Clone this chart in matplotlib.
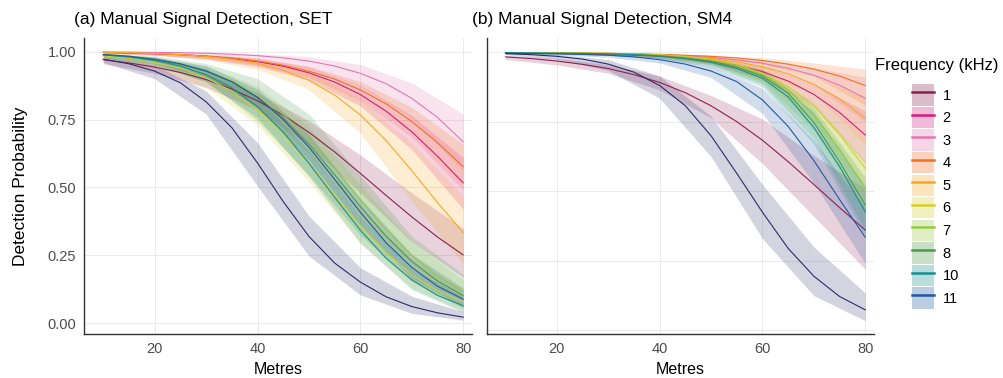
import matplotlib as mpl
mpl.use('Agg')
import matplotlib.pyplot as plt
from matplotlib.patches import Patch
from matplotlib.lines import Line2D

plt.rcParams['font.family'] = ['Liberation Sans', 'DejaVu Sans']

# distance (m) of the fitted curves and of the confidence ribbons
metres = [10, 15, 20, 25, 30, 35, 40, 45, 50, 55, 60, 65, 70, 75, 80]
band_metres = [10, 20, 30, 40, 50, 60, 70, 80]

freqs = ['1', '2', '3', '4', '5', '6', '7', '8', '10', '11', 'navy']
colours = {'1': '#8E1F52', '2': '#D41C7E', '3': '#E377B2', '4': '#F37021',
           '5': '#F7A823', '6': '#D5D027', '7': '#97C93D', '8': '#4A9A48',
           '10': '#17918F', '11': '#1F58A3', 'navy': '#2C2A6B'}

# (a) SET - fitted detection probability
set_mean = {
    '1': [0.970, 0.958, 0.943, 0.923, 0.897, 0.862, 0.819, 0.766, 0.703, 0.631, 0.552, 0.471, 0.392, 0.318, 0.252],
    '2': [0.997, 0.995, 0.992, 0.989, 0.983, 0.975, 0.963, 0.946, 0.922, 0.888, 0.842, 0.781, 0.705, 0.615, 0.517],
    '3': [0.999, 0.998, 0.997, 0.996, 0.994, 0.990, 0.985, 0.977, 0.965, 0.947, 0.920, 0.882, 0.828, 0.758, 0.668],
    '4': [0.996, 0.994, 0.992, 0.988, 0.983, 0.976, 0.965, 0.950, 0.928, 0.899, 0.859, 0.808, 0.743, 0.665, 0.577],
    '5': [0.997, 0.996, 0.993, 0.989, 0.982, 0.972, 0.956, 0.931, 0.894, 0.840, 0.767, 0.673, 0.562, 0.445, 0.334],
    '6': [0.984, 0.975, 0.960, 0.938, 0.904, 0.854, 0.786, 0.696, 0.589, 0.473, 0.359, 0.259, 0.179, 0.120, 0.079],
    '7': [0.988, 0.981, 0.971, 0.954, 0.930, 0.893, 0.840, 0.769, 0.677, 0.570, 0.455, 0.345, 0.250, 0.174, 0.117],
    '8': [0.988, 0.981, 0.970, 0.953, 0.927, 0.888, 0.832, 0.756, 0.659, 0.547, 0.430, 0.321, 0.228, 0.156, 0.103],
    '10': [0.988, 0.980, 0.967, 0.947, 0.915, 0.867, 0.797, 0.704, 0.589, 0.464, 0.343, 0.240, 0.160, 0.103, 0.065],
    '11': [0.989, 0.983, 0.972, 0.955, 0.929, 0.889, 0.831, 0.750, 0.648, 0.530, 0.409, 0.297, 0.206, 0.137, 0.089],
    'navy': [0.972, 0.955, 0.928, 0.885, 0.815, 0.720, 0.590, 0.448, 0.320, 0.222, 0.152, 0.098, 0.062, 0.039, 0.023],
}
set_lo = {
    '1': [0.955, 0.920, 0.868, 0.785, 0.655, 0.480, 0.300, 0.170],
    '2': [0.994, 0.987, 0.973, 0.945, 0.895, 0.800, 0.640, 0.420],
    '3': [0.997, 0.994, 0.987, 0.972, 0.940, 0.875, 0.755, 0.560],
    '4': [0.993, 0.987, 0.974, 0.950, 0.905, 0.820, 0.685, 0.490],
    '5': [0.994, 0.987, 0.970, 0.935, 0.860, 0.700, 0.450, 0.220],
    '6': [0.973, 0.940, 0.868, 0.730, 0.520, 0.295, 0.130, 0.045],
    '7': [0.981, 0.958, 0.905, 0.800, 0.625, 0.400, 0.205, 0.085],
    '8': [0.978, 0.950, 0.890, 0.745, 0.545, 0.325, 0.155, 0.055],
    '10': [0.980, 0.952, 0.888, 0.757, 0.540, 0.295, 0.125, 0.040],
    '11': [0.983, 0.960, 0.905, 0.795, 0.600, 0.360, 0.165, 0.060],
    'navy': [0.960, 0.900, 0.770, 0.505, 0.248, 0.105, 0.037, 0.012],
}
set_hi = {
    '1': [0.980, 0.959, 0.920, 0.848, 0.745, 0.620, 0.480, 0.350],
    '2': [0.998, 0.995, 0.989, 0.975, 0.943, 0.877, 0.765, 0.610],
    '3': [1.000, 0.999, 0.997, 0.992, 0.981, 0.952, 0.885, 0.770],
    '4': [0.998, 0.995, 0.989, 0.976, 0.946, 0.890, 0.795, 0.660],
    '5': [0.998, 0.996, 0.990, 0.973, 0.928, 0.825, 0.665, 0.470],
    '6': [0.991, 0.974, 0.933, 0.835, 0.655, 0.425, 0.235, 0.125],
    '7': [0.993, 0.980, 0.948, 0.872, 0.725, 0.510, 0.300, 0.160],
    '8': [0.994, 0.984, 0.956, 0.900, 0.770, 0.545, 0.320, 0.180],
    '10': [0.993, 0.977, 0.937, 0.833, 0.635, 0.395, 0.200, 0.100],
    '11': [0.993, 0.980, 0.947, 0.862, 0.695, 0.460, 0.255, 0.130],
    'navy': [0.982, 0.950, 0.855, 0.665, 0.395, 0.205, 0.100, 0.043],
}

# (b) SM4 - fitted detection probability
sm4_mean = {
    '1': [0.984, 0.978, 0.969, 0.957, 0.942, 0.920, 0.892, 0.855, 0.808, 0.751, 0.684, 0.607, 0.525, 0.442, 0.361],
    '2': [0.999, 0.998, 0.997, 0.995, 0.993, 0.990, 0.987, 0.980, 0.970, 0.954, 0.931, 0.897, 0.849, 0.784, 0.703],
    '3': [0.999, 0.999, 0.998, 0.997, 0.996, 0.995, 0.992, 0.988, 0.982, 0.973, 0.961, 0.943, 0.918, 0.882, 0.835],
    '4': [0.999, 0.999, 0.998, 0.998, 0.997, 0.995, 0.993, 0.990, 0.986, 0.980, 0.971, 0.958, 0.940, 0.915, 0.881],
    '5': [0.999, 0.999, 0.998, 0.997, 0.996, 0.994, 0.991, 0.986, 0.978, 0.966, 0.949, 0.923, 0.885, 0.833, 0.763],
    '6': [0.999, 0.999, 0.998, 0.998, 0.997, 0.995, 0.991, 0.985, 0.975, 0.957, 0.925, 0.877, 0.807, 0.705, 0.583],
    '7': [0.999, 0.999, 0.998, 0.997, 0.996, 0.994, 0.990, 0.983, 0.972, 0.953, 0.920, 0.866, 0.775, 0.652, 0.511],
    '8': [0.999, 0.998, 0.997, 0.997, 0.995, 0.993, 0.988, 0.980, 0.968, 0.947, 0.915, 0.853, 0.748, 0.607, 0.451],
    '10': [0.999, 0.998, 0.997, 0.996, 0.995, 0.992, 0.986, 0.977, 0.964, 0.942, 0.907, 0.840, 0.730, 0.590, 0.427],
    '11': [0.997, 0.996, 0.995, 0.993, 0.990, 0.984, 0.974, 0.958, 0.933, 0.895, 0.829, 0.734, 0.611, 0.471, 0.335],
    'navy': [0.996, 0.992, 0.986, 0.976, 0.958, 0.929, 0.881, 0.808, 0.700, 0.565, 0.425, 0.295, 0.195, 0.122, 0.074],
}
sm4_lo = {
    '1': [0.975, 0.955, 0.925, 0.865, 0.765, 0.600, 0.410, 0.220],
    '2': [0.998, 0.995, 0.989, 0.979, 0.957, 0.905, 0.805, 0.600],
    '3': [0.998, 0.996, 0.993, 0.986, 0.972, 0.944, 0.885, 0.750],
    '4': [0.998, 0.997, 0.995, 0.989, 0.978, 0.957, 0.915, 0.810],
    '5': [0.998, 0.996, 0.993, 0.985, 0.967, 0.928, 0.850, 0.670],
    '6': [0.998, 0.996, 0.993, 0.985, 0.962, 0.898, 0.755, 0.480],
    '7': [0.998, 0.996, 0.992, 0.983, 0.958, 0.893, 0.720, 0.420],
    '8': [0.997, 0.995, 0.991, 0.980, 0.953, 0.885, 0.690, 0.360],
    '10': [0.997, 0.995, 0.990, 0.978, 0.948, 0.875, 0.670, 0.340],
    '11': [0.994, 0.991, 0.983, 0.962, 0.910, 0.780, 0.530, 0.240],
    'navy': [0.992, 0.976, 0.935, 0.835, 0.625, 0.330, 0.125, 0.035],
}
sm4_hi = {
    '1': [0.990, 0.979, 0.956, 0.915, 0.845, 0.760, 0.630, 0.510],
    '2': [1.000, 0.998, 0.996, 0.992, 0.980, 0.950, 0.885, 0.790],
    '3': [1.000, 0.999, 0.998, 0.995, 0.989, 0.975, 0.945, 0.910],
    '4': [1.000, 0.999, 0.998, 0.996, 0.991, 0.981, 0.962, 0.940],
    '5': [1.000, 0.999, 0.998, 0.995, 0.986, 0.965, 0.915, 0.840],
    '6': [1.000, 0.999, 0.998, 0.995, 0.984, 0.945, 0.850, 0.690],
    '7': [1.000, 0.999, 0.998, 0.994, 0.982, 0.941, 0.820, 0.610],
    '8': [1.000, 0.999, 0.997, 0.993, 0.979, 0.938, 0.800, 0.550],
    '10': [1.000, 0.999, 0.997, 0.991, 0.976, 0.932, 0.785, 0.520],
    '11': [0.999, 0.997, 0.994, 0.983, 0.951, 0.870, 0.685, 0.440],
    'navy': [0.998, 0.993, 0.974, 0.915, 0.770, 0.525, 0.300, 0.135],
}

fig = plt.figure(figsize=(10.04, 3.78), dpi=100)
ax1 = fig.add_axes([0.084, 0.1164, 0.386, 0.7831])
ax2 = fig.add_axes([0.4846, 0.1164, 0.3859, 0.7831])


def draw_panel(ax, mean, lo, hi, title, title_x, ylim):
    for f in freqs:
        ax.fill_between(band_metres, lo[f], hi[f], color=colours[f], alpha=0.2, lw=0)
    for f in freqs:
        ax.plot(metres, mean[f], color=colours[f], lw=0.8)
    ax.set_xlim(6.3, 81.7)
    ax.set_ylim(*ylim)
    ax.set_xticks([20, 40, 60, 80])
    ax.set_yticks([0, 0.25, 0.5, 0.75, 1.0])
    ax.grid(color='#E6E6E6', lw=0.6)
    ax.set_axisbelow(True)
    for s in ['top', 'right']:
        ax.spines[s].set_visible(False)
    for s in ['left', 'bottom']:
        ax.spines[s].set_color('#333333')
        ax.spines[s].set_linewidth(1.0)
    ax.tick_params(length=0, pad=6, labelsize=10.5, labelcolor='#4D4D4D')
    ax.set_xlabel('Metres', fontsize=11.5, labelpad=4)
    ax.set_title(title, loc='left', fontsize=12.5, pad=10, x=title_x)


draw_panel(ax1, set_mean, set_lo, set_hi, '(a) Manual Signal Detection, SET', -0.027, (-0.039, 1.05))
ax1.set_yticklabels(['0.00', '0.25', '0.50', '0.75', '1.00'])
ax1.set_ylabel('Detection Probability', fontsize=12.5, labelpad=14)

draw_panel(ax2, sm4_mean, sm4_lo, sm4_hi, '(b) Manual Signal Detection, SM4', -0.037, (-0.013, 1.052))
ax2.set_yticklabels([])

handles = []
labels = []
for f in freqs[:-1]:
    handles.append((Patch(facecolor=colours[f], alpha=0.3, lw=0),
                    Line2D([], [], color=colours[f], lw=1.8)))
    labels.append(f)
fig.legend(handles, labels, loc='upper left', bbox_to_anchor=(0.9029, 0.7923),
           frameon=False, fontsize=10.5, handlelength=1.46, handleheight=1.865,
           labelspacing=0.09, handletextpad=0.62, borderaxespad=0)
fig.text(0.8715, 0.828, 'Frequency (kHz)', fontsize=12, va='center', ha='left')

fig.savefig('out.png', dpi=100)
